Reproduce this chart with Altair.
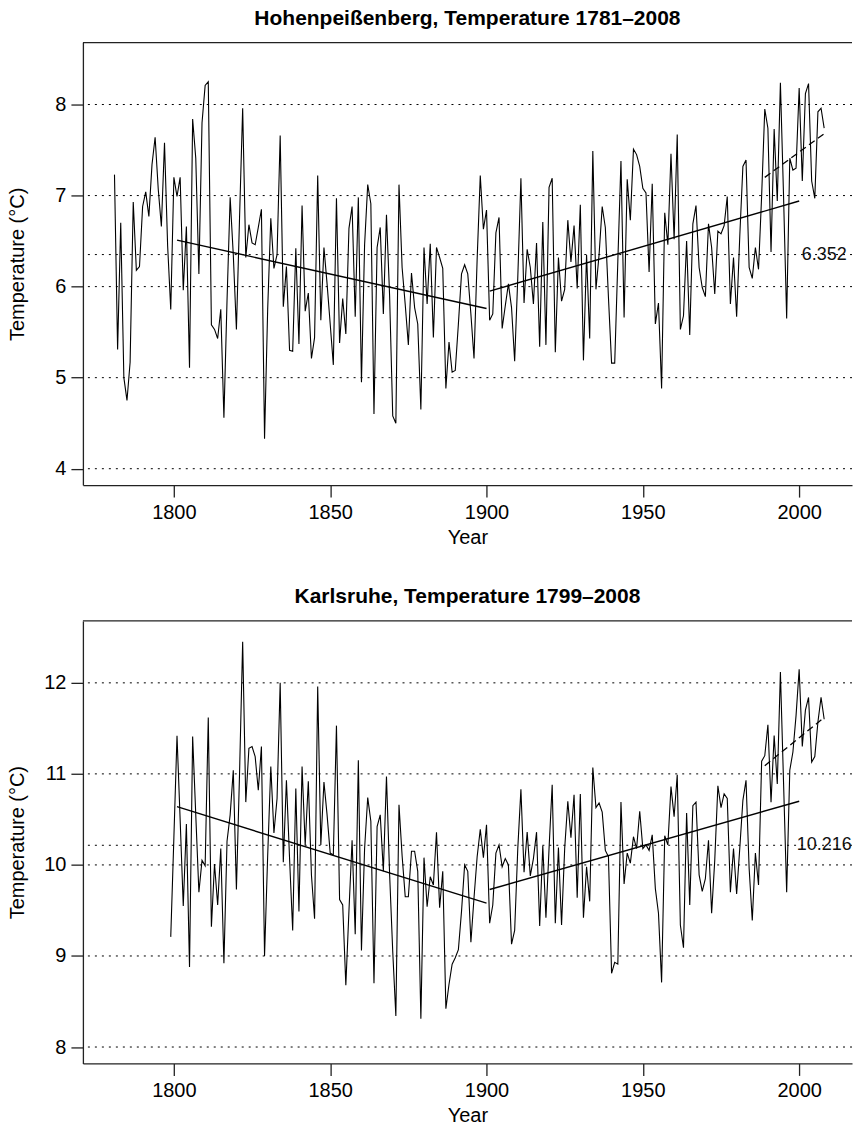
import altair as alt
import pandas as pd

# ---------------- data ----------------
hp_start = 1781
hp_temp = [
    7.23, 5.31, 6.70, 5.00, 4.75, 5.17, 6.93, 6.18, 6.22, 6.88,   # 1781-1790
    7.04, 6.77, 7.34, 7.64, 7.07, 6.66, 7.58, 6.45, 5.75, 7.20,   # 1791-1800
    6.99, 7.20, 5.96, 6.66, 5.11, 7.84, 7.41, 6.14, 7.80, 8.21,   # 1801-1810
    8.25, 5.58, 5.53, 5.43, 5.75, 4.56, 5.85, 6.98, 6.35, 5.53,   # 1811-1820
    6.75, 7.96, 6.32, 6.68, 6.48, 6.46, 6.65, 6.85, 4.33, 5.75,   # 1821-1830
    6.75, 6.20, 6.35, 7.66, 5.78, 6.22, 5.30, 5.29, 6.42, 5.37,   # 1831-1840
    6.89, 5.73, 5.93, 5.21, 5.44, 7.22, 5.63, 6.43, 6.03, 5.59,   # 1841-1850
    5.14, 6.97, 5.38, 5.87, 5.48, 6.64, 6.88, 5.67, 6.98, 4.95,   # 1851-1860
    6.46, 7.12, 6.91, 4.60, 6.43, 6.65, 5.70, 6.79, 5.90, 4.58,   # 1861-1870
    4.50, 7.12, 6.21, 5.80, 5.36, 6.15, 5.77, 5.59, 4.65, 6.43,   # 1871-1880
    5.81, 6.47, 5.44, 6.43, 6.32, 6.20, 4.88, 5.39, 5.06, 5.08,   # 1881-1890
    5.59, 6.14, 6.24, 6.14, 5.70, 5.21, 6.30, 7.22, 6.63, 6.84,   # 1891-1900
    5.63, 5.70, 6.59, 6.76, 5.54, 5.79, 6.03, 5.77, 5.18, 6.10,   # 1901-1910
    7.19, 5.82, 6.41, 6.21, 5.81, 6.48, 5.34, 6.71, 5.36, 7.09,   # 1911-1920
    7.19, 5.28, 6.32, 5.84, 5.97, 6.73, 6.27, 6.67, 5.98, 6.90,   # 1921-1930
    5.19, 6.35, 5.43, 7.49, 5.97, 6.35, 6.88, 6.65, 5.88, 5.16,   # 1931-1940
    5.16, 6.28, 7.38, 5.66, 7.18, 6.73, 7.51, 7.45, 7.32, 7.08,   # 1941-1950
    7.03, 6.16, 7.13, 5.59, 5.82, 4.88, 6.81, 6.46, 7.46, 6.52,   # 1951-1960
    7.67, 5.53, 5.68, 6.50, 5.47, 6.69, 6.89, 6.21, 5.99, 5.89,   # 1961-1970
    6.69, 6.43, 5.92, 6.61, 6.58, 6.67, 6.99, 5.81, 6.32, 5.67,   # 1971-1980
    6.55, 7.32, 7.39, 6.21, 6.09, 6.43, 6.19, 7.00, 7.95, 7.74,   # 1981-1990
    6.38, 7.73, 6.94, 8.24, 7.00, 5.65, 7.41, 7.28, 7.30, 8.18,   # 1991-2000
    7.16, 8.12, 8.23, 7.16, 6.97, 7.92, 7.96, 7.74,               # 2001-2008
]

ka_start = 1799
ka_temp = [
    9.21,                                                          # 1799
    10.30, 11.42, 10.50, 9.55, 10.45, 8.88, 11.41, 10.55, 9.70, 10.05,   # 1800-1809
    9.99, 11.62, 9.32, 10.01, 9.56, 10.18, 8.92, 10.26, 10.55, 11.04,    # 1810-1819
    9.73, 11.00, 12.45, 10.69, 11.28, 11.30, 11.19, 10.82, 11.30, 9.00,  # 1820-1829
    10.10, 11.08, 10.35, 10.73, 12.00, 10.03, 10.93, 10.07, 9.28, 10.84, # 1830-1839
    9.49, 11.08, 10.22, 10.92, 9.89, 9.41, 11.96, 10.22, 10.91, 10.55,   # 1840-1849
    10.13, 10.11, 11.53, 9.62, 9.56, 8.68, 9.50, 10.27, 9.24, 11.15,     # 1850-1859
    9.06, 10.18, 10.74, 10.48, 8.70, 10.42, 10.55, 9.93, 10.97, 9.90,    # 1860-1869
    9.05, 8.34, 10.66, 10.10, 9.65, 9.65, 10.15, 10.15, 9.93, 8.31,      # 1870-1879
    10.08, 9.54, 9.87, 9.78, 10.36, 9.53, 9.93, 8.42, 8.69, 8.91,        # 1880-1889
    8.98, 9.07, 9.49, 10.00, 9.93, 9.15, 9.64, 10.09, 10.39, 10.08,      # 1890-1899
    10.44, 9.36, 9.56, 10.13, 10.22, 9.98, 10.07, 10.00, 9.13, 9.28,     # 1900-1909
    10.18, 10.83, 9.92, 10.36, 9.88, 10.07, 10.36, 9.33, 10.21, 9.42,    # 1910-1919
    10.18, 10.88, 9.36, 10.19, 9.34, 10.18, 10.70, 10.30, 10.77, 9.64,   # 1920-1929
    10.78, 9.42, 9.98, 9.60, 11.07, 10.63, 10.68, 10.58, 10.16, 10.09,   # 1930-1939
    8.81, 8.93, 8.91, 10.69, 9.79, 10.13, 10.02, 10.31, 10.18, 10.59,    # 1940-1949
    10.18, 10.22, 10.16, 10.33, 9.74, 9.47, 8.71, 10.32, 10.22, 10.86,   # 1950-1959
    10.53, 10.99, 9.34, 9.09, 10.57, 9.56, 10.65, 10.69, 9.89, 9.71,     # 1960-1969
    9.85, 10.27, 9.47, 10.05, 10.87, 10.63, 10.78, 10.73, 9.70, 10.18,   # 1970-1979
    9.68, 10.18, 10.71, 10.93, 9.96, 9.39, 10.13, 9.78, 11.14, 11.20,    # 1980-1989
    11.54, 10.69, 11.42, 10.89, 12.12, 10.91, 9.70, 11.04, 11.24, 11.64, # 1990-1999
    12.15, 11.30, 11.70, 11.84, 11.13, 11.19, 11.57, 11.84, 11.60,       # 2000-2008
]

hp_mean = 6.352
hp_mean_label = "6.352"
ka_mean = 10.216
ka_mean_label = "10.216"

# trend segments 1801-1900 and 1901-2000, and the recent 1989-2008 one
hp_trend_year = [1801, 1900, 1901, 2000]
hp_trend_temp = [6.51, 5.76, 5.95, 6.94]
hp_recent_year = [1989, 2008]
hp_recent_temp = [7.20, 7.68]

ka_trend_year = [1801, 1900, 1901, 2000]
ka_trend_temp = [10.64, 9.58, 9.73, 10.70]
ka_recent_year = [1989, 2008]
ka_recent_temp = [11.09, 11.62]

trend_seg = ["a", "a", "b", "b"]

x_ticks = [1800, 1850, 1900, 1950, 2000]
x_domain = [1770.9, 2016.9]
hp_y_ticks = [4, 5, 6, 7, 8]
hp_y_domain = [3.82, 8.68]
ka_y_ticks = [8, 9, 10, 11, 12]
ka_y_domain = [7.82, 12.68]

hp_title = "Hohenpeißenberg, Temperature 1781\u20132008"
ka_title = "Karlsruhe, Temperature 1799\u20132008"

# ---------------- layout / style ----------------
W, H = 770, 443
FONT = "Liberation Sans"
AX = "#222222"


def panel(title, start, temps, trend_year, trend_temp, recent_year, recent_temp,
          mean, mean_label, y_ticks, y_domain):
    series = pd.DataFrame({"year": list(range(start, start + len(temps))), "temp": temps})
    trend = pd.DataFrame({"year": trend_year, "temp": trend_temp, "seg": trend_seg})
    recent = pd.DataFrame({"year": recent_year, "temp": recent_temp})
    grid = pd.DataFrame({"temp": y_ticks + [mean]})
    note = pd.DataFrame({"year": [2008], "temp": [mean], "label": [mean_label]})

    x = alt.X("year:Q",
              scale=alt.Scale(domain=x_domain, nice=False, zero=False),
              axis=alt.Axis(values=x_ticks, format="d", title="Year",
                            tickSize=12, labelPadding=5,
                            titleY=52, titleBaseline="middle"))
    y = alt.Y("temp:Q",
              scale=alt.Scale(domain=y_domain, nice=False, zero=False),
              axis=alt.Axis(values=y_ticks, format="d", title="Temperature (\u00b0C)",
                            tickSize=12, labelPadding=5,
                            titleX=-65, titleY=H / 2, titleAngle=270,
                            titleBaseline="middle", titleAlign="center"))

    grid_layer = alt.Chart(grid).mark_rule(color="black", strokeWidth=1,
                                           strokeDash=[2, 5]).encode(y=y)
    line_layer = alt.Chart(series).mark_line(color="black", strokeWidth=1.1).encode(x=x, y=y)
    trend_layer = alt.Chart(trend).mark_line(color="black", strokeWidth=1.4).encode(
        x=x, y=y, detail="seg:N")
    recent_layer = alt.Chart(recent).mark_line(color="black", strokeWidth=1.3,
                                               strokeDash=[7, 4]).encode(x=x, y=y)
    note_layer = alt.Chart(note).mark_text(fontSize=18, font=FONT, align="center",
                                           baseline="middle", color="#111").encode(
        x=x, y=y, text="label:N")
    top_border = alt.Chart(note).mark_rule(color=AX, strokeWidth=1.3).encode(
        x=alt.value(0), x2=alt.value(W), y=alt.value(0))

    return alt.layer(grid_layer, line_layer, trend_layer, recent_layer, note_layer,
                     top_border).properties(
        width=W, height=H,
        title=alt.TitleParams(text=title, fontSize=21, fontWeight="bold", font=FONT,
                              anchor="middle", frame="group", offset=-8,
                              baseline="bottom", color="black"))


top = panel(hp_title, hp_start, hp_temp, hp_trend_year, hp_trend_temp,
            hp_recent_year, hp_recent_temp, hp_mean, hp_mean_label,
            hp_y_ticks, hp_y_domain)
bottom = panel(ka_title, ka_start, ka_temp, ka_trend_year, ka_trend_temp,
               ka_recent_year, ka_recent_temp, ka_mean, ka_mean_label,
               ka_y_ticks, ka_y_domain)

chart = alt.vconcat(top, bottom, spacing=39).properties(
    padding={"left": 8, "top": 7, "right": 0, "bottom": 2},
    background="white",
).configure_view(stroke=None).configure_axis(
    labelFont=FONT, titleFont=FONT, labelFontSize=20, titleFontSize=20,
    titleFontWeight="normal", domainColor=AX, tickColor=AX, domainWidth=1.3,
    tickWidth=1.3, labelColor="black", titleColor="black", grid=False,
)

chart.save("out.html", embed_options={"renderer": "svg", "actions": False})
